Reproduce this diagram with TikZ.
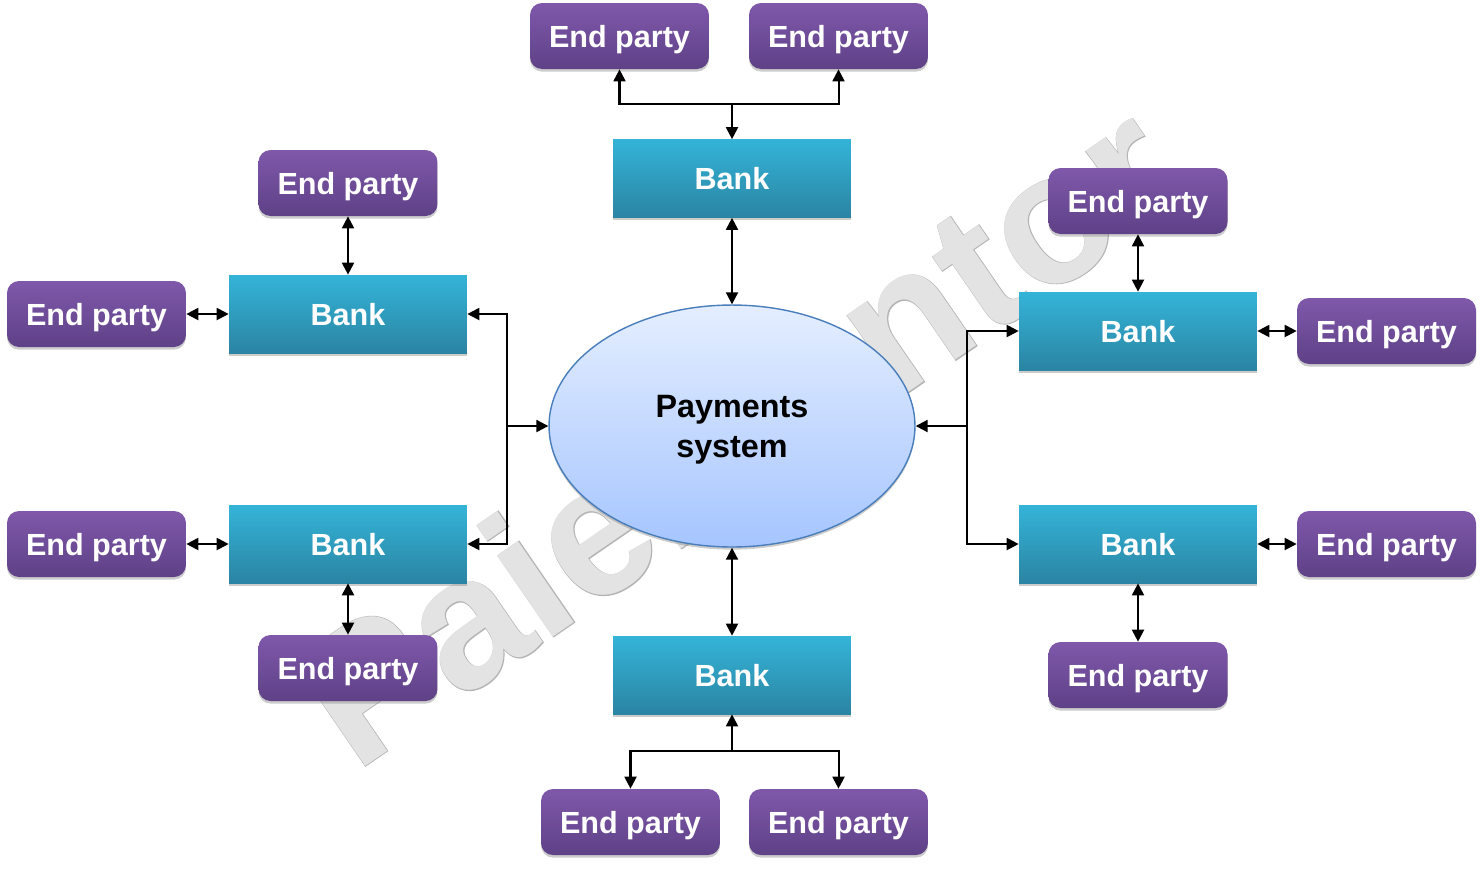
\documentclass[tikz,border=0pt]{standalone}
\usepackage{fontspec}
\setmainfont{Liberation Sans}
\newfontfamily\markfont[FakeBold=0.6]{Liberation Sans Bold}
\usepackage{xcolor}
\usepackage{tikz}
\usetikzlibrary{arrows.meta}
\usetikzlibrary{shadows}
\usetikzlibrary{shapes.geometric}
\definecolor{partytop}{HTML}{7F58AA}
\definecolor{partybottom}{HTML}{5E4187}
\definecolor{banktop}{HTML}{34B4D8}
\definecolor{bankbottom}{HTML}{2B84A3}
\definecolor{systop}{HTML}{E4EEFF}
\definecolor{sysbottom}{HTML}{A6C5FF}
\definecolor{sysline}{HTML}{4A7EBB}
\definecolor{markfill}{HTML}{E3E3E3}
\definecolor{markline}{HTML}{B4B4B4}
\tikzset{
    treenode/.style = {align=center, inner sep=0pt, text centered},
    party_node/.style = {treenode, rectangle, rounded corners=0.24cm, white, top color=partytop, bottom color=partybottom, minimum width=3.58cm, minimum height=1.32cm, text height=13.6pt, text depth=0pt, font=\fontsize{17.4}{20}\selectfont\bfseries, drop shadow={shadow xshift=0pt, shadow yshift=-1.5pt, opacity=0.4}},
    bank_node/.style = {treenode, rectangle, white, top color=banktop, bottom color=bankbottom, minimum width=4.76cm, minimum height=1.56cm, text height=13pt, text depth=0pt, font=\fontsize{17.4}{20}\selectfont\bfseries, drop shadow={shadow xshift=0pt, shadow yshift=-1.5pt, opacity=0.4}},
    system_node/.style = {treenode, ellipse, black, draw=sysline, line width=0.8pt, top color=systop, bottom color=sysbottom, minimum width=7.32cm, minimum height=4.84cm, text depth=-1.7pt, font=\fontsize{18.4}{22.8}\selectfont\bfseries, drop shadow={shadow xshift=0pt, shadow yshift=-1.5pt, opacity=0.4}},
    mark_node/.style = {treenode, rotate=34.5, font=\fontsize{106}{105}\selectfont},
    link/.style = {line width=1.15pt, black}
}

\begin{document}
\begin{tikzpicture}
            [x=0.02cm, y=-0.02cm, >={Triangle[length=6.8pt, width=6.8pt]}]

            \useasboundingbox (0,0) rectangle (1483,870);

            \node (mark_line) [mark_node, markline] at (735.5,431) {\markfont Paiementor};
            \node (mark_fill) [mark_node, markfill] at (735.5,431) {\bfseries Paiementor};

            \node (system) [system_node] at (732,426) {Payments\\system};

            \node (bank_top) [bank_node] at (732,178.5) {Bank};
            \node (bank_bottom) [bank_node] at (732,675) {Bank};
            \node (bank_lu) [bank_node] at (348,314) {Bank};
            \node (bank_ld) [bank_node] at (348,544) {Bank};
            \node (bank_ru) [bank_node] at (1138,331) {Bank};
            \node (bank_rd) [bank_node] at (1138,544) {Bank};

            \node (party_t1) [party_node] at (619.5,36) {End party};
            \node (party_t2) [party_node] at (838.5,36) {End party};
            \node (party_b1) [party_node] at (630.5,822) {End party};
            \node (party_b2) [party_node] at (838.5,822) {End party};
            \node (party_lu1) [party_node] at (348,183) {End party};
            \node (party_lu2) [party_node] at (96.5,314) {End party};
            \node (party_ld1) [party_node] at (96.5,544) {End party};
            \node (party_ld2) [party_node] at (348,668) {End party};
            \node (party_ru1) [party_node] at (1138,201) {End party};
            \node (party_ru2) [party_node] at (1386.5,331) {End party};
            \node (party_rd1) [party_node] at (1386.5,544) {End party};
            \node (party_rd2) [party_node] at (1138,675) {End party};

            \coordinate (fork_t) at (732,104);
            \coordinate (fork_b) at (732,751);
            \coordinate (fork_l) at (507,426);
            \coordinate (fork_r) at (967,426);

            \draw [link, <->] (bank_top) -- (system);
            \draw [link, <->] (bank_bottom) -- (system);
            \draw [link, ->] (fork_t) -- (bank_top);
            \draw [link, ->] (fork_t) -| (party_t1);
            \draw [link, ->] (fork_t) -| (party_t2);
            \draw [link, ->] (fork_b) -- (bank_bottom);
            \draw [link, ->] (fork_b) -| (party_b1);
            \draw [link, ->] (fork_b) -| (party_b2);

            \draw [link, ->] (fork_l) -- (system);
            \draw [link, ->] (fork_l) |- (bank_lu);
            \draw [link, ->] (fork_l) |- (bank_ld);
            \draw [link, ->] (fork_r) -- (system);
            \draw [link, ->] (fork_r) |- (bank_ru);
            \draw [link, ->] (fork_r) |- (bank_rd);

            \draw [link, <->] (bank_lu) -- (party_lu1);
            \draw [link, <->] (bank_lu) -- (party_lu2);
            \draw [link, <->] (bank_ld) -- (party_ld1);
            \draw [link, <->] (bank_ld) -- (party_ld2);
            \draw [link, <->] (bank_ru) -- (party_ru1);
            \draw [link, <->] (bank_ru) -- (party_ru2);
            \draw [link, <->] (bank_rd) -- (party_rd1);
            \draw [link, <->] (bank_rd) -- (party_rd2);
        \end{tikzpicture}
\end{document}
